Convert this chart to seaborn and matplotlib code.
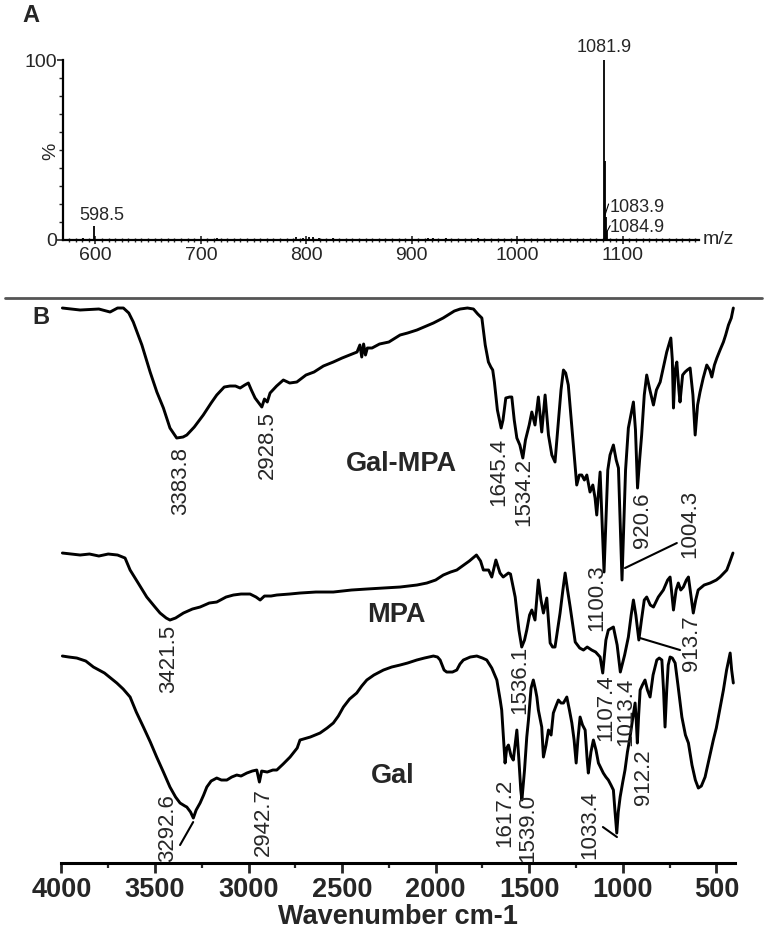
import numpy as np
import pandas as pd
import matplotlib
matplotlib.use('Agg')
import matplotlib.pyplot as plt
from matplotlib.lines import Line2D
from matplotlib.ticker import MultipleLocator, FixedLocator
from matplotlib import font_manager
import seaborn as sns

sns.set_style('white')
plt.rcParams['font.family'] = ['Liberation Sans', 'DejaVu Sans']

names = {f.name for f in font_manager.fontManager.ttflist}
narrow = 'Liberation Sans Narrow' in names
peak_font = ['Liberation Sans Narrow', 'Liberation Sans'] if narrow else ['Liberation Sans']
peak_size = 19 if narrow else 16

# ---- panel A: mass spectrum ----
ms_mz = [588.0, 598.5, 715.0, 790.0, 797.0, 803.0, 806.0, 812.0, 825.0, 915.0, 920.0, 932.0, 963.0,
         1081.9, 1082.9, 1083.9, 1084.9]
ms_int = [1.0, 7.5, 1.0, 1.5, 1.0, 1.5, 1.5, 1.0, 1.2, 1.2, 1.0, 1.0, 1.0,
          100.0, 44.0, 13.0, 5.0]

# ---- panel B: FTIR spectra (transmittance, arbitrary offset units) ----
galmpa_wn = [3995, 3900, 3800, 3740, 3700, 3669, 3640, 3616, 3570, 3526, 3490, 3455, 3420, 3384, 3350,
             3330, 3290, 3242, 3200, 3170, 3130, 3099, 3070, 3045, 3020, 3001, 2985, 2965, 2945, 2929,
             2915, 2900, 2885, 2850, 2814, 2780, 2742, 2693, 2650, 2600, 2547, 2500, 2460, 2420, 2405,
             2395, 2385, 2375, 2365, 2340, 2300, 2250, 2190, 2150, 2100, 2050, 2012, 1960, 1900, 1869,
             1830, 1798, 1775, 1753, 1735, 1718, 1705, 1695, 1686, 1670, 1650, 1640, 1625, 1605, 1593,
             1580, 1566, 1550, 1534, 1520, 1500, 1486, 1469, 1451, 1433, 1415, 1397, 1379, 1362, 1344,
             1330, 1317, 1305, 1291, 1264, 1246, 1232, 1219, 1205, 1192, 1175, 1160, 1148, 1139, 1121,
             1100, 1080, 1068, 1050, 1035, 1023, 1004, 985, 970, 943, 932, 921, 910, 899, 885,
             872, 855, 836, 820, 800, 780, 765, 743, 735, 729, 720, 711, 700, 694, 680,
             667, 655, 640, 625, 613, 600, 587, 570, 551, 535, 524, 510, 497, 480, 462,
             450, 435, 420, 409]
galmpa_py = [308, 310, 309, 312, 308, 308, 313, 322, 345, 372, 392, 408, 428, 438, 437,
             435, 427, 415, 403, 395, 387, 386, 386, 388, 385, 383, 390, 398, 403, 407,
             399, 402, 393, 386, 380, 383, 382, 375, 372, 366, 362, 358, 355, 352, 345,
             357, 344, 355, 348, 348, 344, 342, 335, 333, 330, 326, 323, 318, 311, 309,
             308, 309, 314, 318, 345, 362, 367, 370, 382, 410, 428, 420, 398, 397, 397,
             420, 438, 445, 458, 440, 425, 412, 425, 397, 432, 395, 435, 455, 462, 422,
             390, 370, 373, 385, 445, 485, 475, 475, 480, 475, 492, 485, 498, 515, 472,
             572, 470, 455, 445, 460, 468, 580, 470, 428, 402, 430, 488, 460, 435, 395,
             375, 390, 405, 390, 382, 365, 352, 338, 360, 408, 370, 362, 390, 402, 375,
             372, 370, 368, 395, 435, 405, 392, 378, 365, 370, 377, 365, 358, 350, 342,
             335, 325, 318, 308]

mpa_wn = [3995, 3900, 3850, 3800, 3750, 3700, 3660, 3633, 3590, 3544, 3500, 3473, 3440, 3420, 3390,
          3348, 3300, 3259, 3210, 3170, 3120, 3081, 3040, 2992, 2960, 2938, 2915, 2880, 2849, 2780,
          2725, 2640, 2547, 2450, 2368, 2280, 2190, 2100, 2047, 2000, 1959, 1920, 1887, 1820, 1782,
          1760, 1745, 1717, 1700, 1678, 1656, 1639, 1611, 1600, 1575, 1555, 1540, 1525, 1513, 1498,
          1486, 1469, 1451, 1437, 1424, 1406, 1388, 1375, 1362, 1335, 1320, 1308, 1295, 1281, 1254,
          1230, 1210, 1190, 1166, 1145, 1121, 1107, 1090, 1077, 1050, 1030, 1013, 990, 970, 955,
          943, 930, 914, 900, 885, 872, 853, 836, 810, 783, 760, 747, 737, 729, 715,
          703, 690, 676, 660, 649, 636, 623, 610, 597, 565, 533, 500, 480, 444, 430,
          411]
mpa_py = [553, 555, 554, 556, 554, 555, 558, 570, 583, 597, 607, 613, 618, 620, 618,
          613, 609, 607, 603, 602, 597, 595, 594, 594, 597, 600, 596, 596, 595, 594,
          593, 592, 592, 590, 589, 588, 587, 585, 583, 580, 575, 572, 570, 561, 555,
          561, 570, 570, 577, 560, 573, 577, 573, 574, 597, 630, 647, 640, 630, 615,
          610, 620, 580, 600, 613, 598, 643, 647, 647, 613, 590, 573, 590, 607, 642,
          648, 650, 647, 650, 652, 657, 673, 640, 630, 627, 645, 672, 655, 637, 615,
          600, 615, 640, 620, 600, 597, 605, 607, 597, 590, 580, 577, 595, 610, 590,
          583, 590, 587, 580, 577, 595, 613, 600, 590, 585, 583, 580, 577, 570, 563,
          553]

gal_wn = [3995, 3960, 3918, 3870, 3829, 3770, 3704, 3670, 3633, 3600, 3562, 3525, 3491, 3455, 3420,
          3390, 3366, 3340, 3330, 3310, 3295, 3280, 3259, 3240, 3223, 3200, 3170, 3145, 3116, 3090,
          3063, 3040, 3009, 2980, 2956, 2942, 2930, 2900, 2870, 2849, 2815, 2778, 2740, 2725, 2670,
          2618, 2580, 2547, 2520, 2493, 2460, 2422, 2395, 2368, 2330, 2279, 2235, 2190, 2150, 2101,
          2060, 2012, 1990, 1976, 1955, 1941, 1910, 1887, 1870, 1852, 1815, 1780, 1750, 1727, 1700,
          1673, 1655, 1647, 1635, 1629, 1620, 1611, 1597, 1585, 1572, 1566, 1555, 1545, 1539, 1525,
          1513, 1504, 1490, 1478, 1466, 1459, 1451, 1433, 1424, 1410, 1397, 1383, 1371, 1357, 1344,
          1330, 1317, 1299, 1285, 1272, 1260, 1249, 1240, 1228, 1215, 1201, 1190, 1184, 1170, 1157,
          1143, 1130, 1117, 1104, 1090, 1077, 1063, 1050, 1042, 1032, 1024, 1014, 1000, 988, 975,
          961, 948, 934, 928, 922, 915, 907, 895, 881, 868, 854, 838, 818, 805, 791,
          782, 774, 765, 757, 747, 735, 720, 705, 684, 665, 649, 630, 612, 596, 580,
          560, 540, 516, 500, 489, 475, 462, 445, 426, 418, 409]
gal_py = [656, 657, 658, 661, 667, 673, 683, 689, 697, 712, 727, 742, 757, 772, 787,
          797, 803, 806, 807, 812, 818, 810, 803, 795, 787, 781, 778, 780, 780, 777,
          775, 776, 773, 771, 770, 782, 771, 772, 770, 770, 764, 757, 748, 740, 737,
          733, 728, 723, 716, 707, 699, 693, 686, 680, 675, 670, 667, 665, 663, 660,
          658, 656, 657, 660, 670, 672, 672, 670, 664, 660, 657, 656, 658, 660, 668,
          680, 700, 710, 745, 763, 748, 745, 756, 760, 740, 730, 760, 790, 800, 770,
          737, 720, 688, 680, 690, 697, 710, 727, 757, 745, 730, 735, 713, 706, 700,
          703, 703, 697, 710, 723, 740, 763, 740, 717, 725, 730, 760, 773, 752, 740,
          750, 763, 768, 773, 777, 780, 785, 790, 810, 833, 812, 797, 782, 770, 752,
          737, 720, 703, 720, 743, 715, 690, 685, 680, 690, 697, 675, 660, 658, 660,
          690, 727, 690, 665, 657, 658, 663, 685, 717, 735, 743, 765, 780, 788, 786,
          777, 760, 740, 728, 717, 703, 690, 670, 653, 670, 683]

# peak labels: text, wavenumber, height
peak_text = ['3383.8', '2928.5', '1645.4', '1534.2', '920.6', '1004.3', '1100.3',
             '3421.5', '1536.1', '1107.4', '1013.4', '913.7',
             '3292.6', '2942.7', '1617.2', '1539.0', '1033.4', '912.2']
peak_wn = [3362, 2899, 1661, 1527, 894, 640, 1137,
           3425, 1553, 1089, 982, 635,
           3430, 2922, 1633, 1510, 1175, 891]
peak_y = [382, 418, 391, 371, 343, 339, 265,
          204, 183, 155, 151, 220,
          35, 41, 50, 35, 38, 86]

names_text = ['Gal-MPA', 'MPA', 'Gal']
names_wn = [2181, 2212, 2228]
names_y = [399, 248, 87]

frames = []
for name, wn, py in [('Gal-MPA', galmpa_wn, galmpa_py), ('MPA', mpa_wn, mpa_py), ('Gal', gal_wn, gal_py)]:
    frames.append(pd.DataFrame({'wn': wn, 'T': 863 - np.array(py), 'sample': name}))
ftir = pd.concat(frames, ignore_index=True)

fig = plt.figure(figsize=(7.67, 9.32), dpi=100)

# ---------------- panel A ----------------
ax_a = fig.add_axes([0.0815, 0.7425, 0.8293, 0.1931])
ax_a.vlines(ms_mz, 0, ms_int, color='black', lw=1.3)
ax_a.set_xlim(568.9, 1171.8)
ax_a.set_ylim(0, 100)
sns.despine(ax=ax_a)
for s in ['left', 'bottom']:
    ax_a.spines[s].set_linewidth(1.6)
    ax_a.spines[s].set_color('black')
ax_a.xaxis.set_major_locator(MultipleLocator(100))
ax_a.xaxis.set_minor_locator(MultipleLocator(6.25))
ax_a.yaxis.set_major_locator(FixedLocator([0, 100]))
ax_a.yaxis.set_minor_locator(MultipleLocator(10))
ax_a.tick_params(axis='x', which='major', direction='inout', length=6, width=1.2, labelsize=14, pad=2, bottom=True)
ax_a.tick_params(axis='x', which='minor', direction='inout', length=3, width=1.0, bottom=True)
ax_a.tick_params(axis='y', which='major', direction='out', length=4, width=1.2, labelsize=14, pad=0, left=True)
ax_a.tick_params(axis='y', which='minor', direction='out', length=3, width=1.0, left=True)
ax_a.text(-0.018, 0.49, '%', transform=ax_a.transAxes, rotation=90, fontsize=14, ha='center', va='center')
ax_a.text(1.007, 0, 'm/z', transform=ax_a.transAxes, fontsize=14, ha='left', va='center')
ax_a.text(1081.9, 102, '1081.9', fontsize=13, ha='center', va='bottom')
ax_a.text(605.9, 9, '598.5', fontsize=13, ha='center', va='bottom')
ax_a.plot([1082.6, 1086.5], [13, 20], color='black', lw=0.8)
ax_a.text(1087.5, 18, '1083.9', fontsize=13, ha='left', va='center')
ax_a.plot([1085.3, 1088.0], [5, 8], color='black', lw=0.8)
ax_a.text(1087.5, 7, '1084.9', fontsize=13, ha='left', va='center')

# ---------------- panel B ----------------
ax_b = fig.add_axes([0.0801, 0.0740, 0.8782, 0.6041])
sns.lineplot(data=ftir, x='wn', y='T', units='sample', estimator=None, sort=False,
             color='black', lw=2.1, ax=ax_b)
ax_b.set_xlim(4000, 400)
ax_b.set_ylim(0, 563)
sns.despine(ax=ax_b, left=True)
ax_b.spines['bottom'].set_linewidth(2.2)
ax_b.spines['bottom'].set_color('black')
ax_b.set_yticks([])
ax_b.set_ylabel('')
ax_b.xaxis.set_major_locator(FixedLocator([4000, 3500, 3000, 2500, 2000, 1500, 1000, 500]))
ax_b.xaxis.set_minor_locator(MultipleLocator(250))
ax_b.tick_params(axis='x', which='major', direction='out', length=7, width=2, pad=3, bottom=True)
ax_b.tick_params(axis='x', which='minor', direction='out', length=3.5, width=1.6, bottom=True)
for lab in ax_b.get_xticklabels():
    lab.set_fontsize(19.5)
    lab.set_fontweight('bold')
ax_b.set_xlabel('Wavenumber cm-1', fontsize=19.5, fontweight='bold', labelpad=1)

for t, w, y in zip(peak_text, peak_wn, peak_y):
    ax_b.text(w, y, t, rotation=90, ha='center', va='center', fontsize=peak_size, family=peak_font)
for t, w, y in zip(names_text, names_wn, names_y):
    ax_b.text(w, y, t, ha='center', va='center', fontsize=19.5, fontweight='bold')

# leader lines to crowded peak labels
ax_b.plot([988, 711], [295, 320], color='black', lw=1.5)
ax_b.plot([908, 694], [225, 213], color='black', lw=1.5)
ax_b.plot([3296, 3366], [41, 18], color='black', lw=1.5)
ax_b.plot([1031, 1106], [26, 36], color='black', lw=1.5)

# panel letters and divider
fig.text(22 / 767, 1 - 15 / 932, 'A', fontsize=17, fontweight='bold', ha='left', va='center')
fig.text(32 / 767, 1 - 318 / 932, 'B', fontsize=17, fontweight='bold', ha='left', va='center')
fig.add_artist(Line2D([0.007, 0.993], [1 - 298 / 932] * 2, color='#555555', lw=2))

fig.savefig('out.png', dpi=100)
